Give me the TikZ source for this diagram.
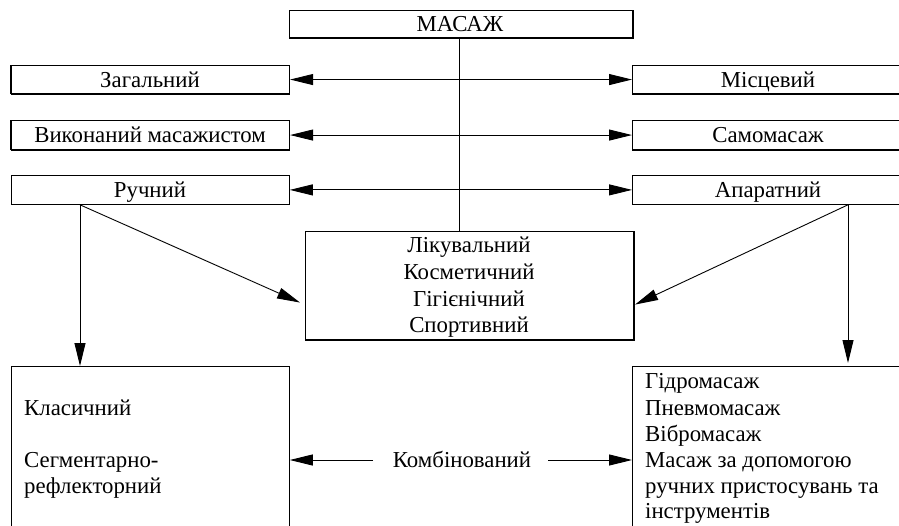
\documentclass[tikz,border=0pt]{standalone}
\usepackage{fontspec}
\setmainfont{Liberation Serif}
\usetikzlibrary{arrows.meta,calc}
\begin{document}
\begin{tikzpicture}[x=1pt,y=-1pt,
  every node/.style={font=\fontsize{22.8}{26}\selectfont},
  box/.style={draw,line width=1.1pt,rectangle,inner sep=0pt,anchor=north west},
  txt/.style={inner sep=0pt,anchor=base},
  ltxt/.style={inner sep=0pt,anchor=base west},
  arr/.style={line width=0.9pt,-{Triangle[length=23pt,width=11pt]}},
  darr/.style={line width=0.9pt,{Triangle[length=23pt,width=11pt]}-{Triangle[length=23pt,width=11pt]}},
  shade/.style={line width=2.2pt}]
\useasboundingbox (0,0) rectangle (899,525);
\clip (0,0) rectangle (899,525);
\fill[white] (0,0) rectangle (899,525);
% boxes
\node[box,minimum width=343pt,minimum height=27pt] (mas) at (289,10) {};
\node[txt] at (460,31) {МАСАЖ};
\node[box,minimum width=278pt,minimum height=28pt] (zag) at (11,65) {};
\node[txt] at (150,87) {Загальний};
\node[box,minimum width=273pt,minimum height=28pt] (mis) at (632,65) {};
\node[txt] at (768,87) {Місцевий};
\node[box,minimum width=278pt,minimum height=29pt] (vyk) at (11,120) {};
\node[txt] at (150,142) {Виконаний масажистом};
\node[box,minimum width=273pt,minimum height=29pt] (sam) at (632,120) {};
\node[txt] at (768,142) {Самомасаж};
\node[box,minimum width=278pt,minimum height=29pt,line width=0.8pt] (ruc) at (11,175) {};
\node[txt] at (150,197) {Ручний};
\node[box,minimum width=273pt,minimum height=29pt,line width=0.8pt] (apa) at (632,175) {};
\node[txt] at (768,197) {Апаратний};
\node[box,minimum width=328pt,minimum height=108pt] (cen) at (305,231) {};
\node[txt] at (469,252) {Лікувальний};
\node[txt] at (469,279) {Косметичний};
\node[txt] at (469,306) {Гігієнічний};
\node[txt] at (469,332) {Спортивний};
\node[box,minimum width=278pt,minimum height=180pt,line width=0.8pt] (bl) at (11,366) {};
\node[ltxt] at (24,415) {Класичний};
\node[ltxt] at (24,467) {Сегментарно-};
\node[ltxt] at (24,493) {рефлекторний};
\node[box,minimum width=273pt,minimum height=180pt,line width=0.8pt] (br) at (632,366) {};
\node[ltxt] at (645,388) {Гідромасаж};
\node[ltxt] at (645,415) {Пневмомасаж};
\node[ltxt] at (645,441) {Вібромасаж};
\node[ltxt] at (645,467) {Масаж за допомогою};
\node[ltxt] at (645,493) {ручних пристосувань та};
\node[ltxt] at (645,518) {інструментів};
\node[txt] (kom) at (462,467) {Комбінований};
% shadows (thicker right/bottom edges)
\draw[shade] (mas.south west) -- (mas.south east) -- (mas.north east);
\draw[shade] (zag.south west) -- (zag.south east);
\draw[shade] (zag.south west) -- (zag.north west);
\draw[shade] (mis.south west) -- (mis.south east);
\draw[shade] (vyk.south west) -- (vyk.south east);
\draw[shade] (vyk.south west) -- (vyk.north west);
\draw[shade] (sam.south west) -- (sam.south east);
\draw[shade] (cen.south west) -- (cen.south east) -- (cen.north east);
% connectors
\draw[line width=0.8pt] (mas.south) ++(-2,0) coordinate (ms) -- (ms |- cen.north);
\draw[darr] (zag.east) -- (mis.west);
\draw[darr] (vyk.east) -- (sam.west);
\draw[darr] (ruc.east) -- (apa.west);
\coordinate (rp) at ($(ruc.south west)+(69,0)$);
\coordinate (ap) at ($(apa.south west)+(216,0)$);
\draw[arr] (rp) -- ($(cen.west)+(-5,17)$);
\draw[arr] (rp) -- (rp |- bl.north);
\draw[arr] (ap) -- ($(cen.east)+(1,19)$);
\draw[arr] (ap) -- ($(ap |- br.north)+(0,-3)$);
\coordinate (kw) at (373,460);
\coordinate (ke) at (548,460);
\draw[arr] (kw) -- (bl.east |- kw);
\draw[arr] (ke) -- (br.west |- ke);
\end{tikzpicture}
\end{document}
